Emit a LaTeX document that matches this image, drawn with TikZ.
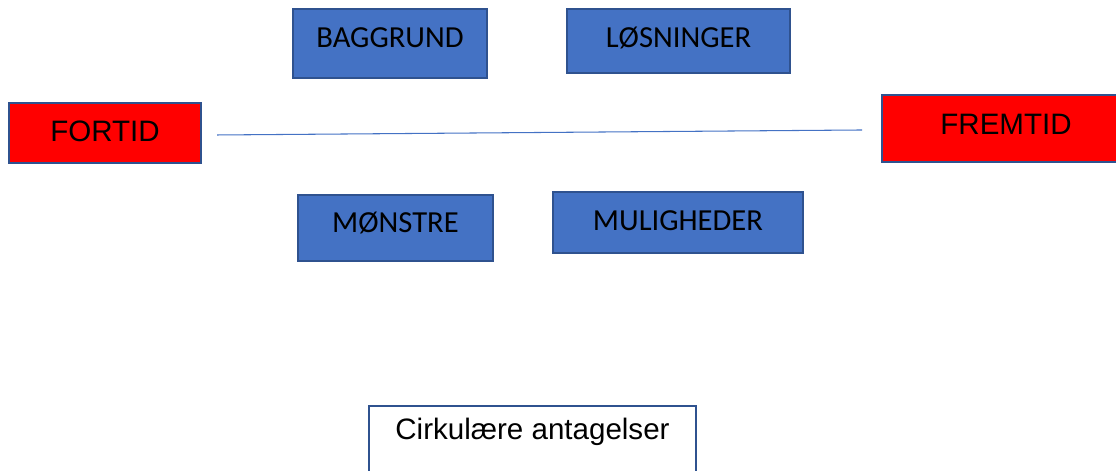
\documentclass[tikz,border=0pt]{standalone}
\usepackage{fontspec}
\setmainfont{Liberation Sans}
\newfontfamily\carlito{Carlito}
\definecolor{boxblue}{HTML}{4472C4}
\definecolor{edgeblue}{HTML}{2F528F}

\begin{document}
\begin{tikzpicture}[x=0.01cm, y=-0.01cm,
    blue box/.style={draw=edgeblue, fill=boxblue, line width=0.55pt, inner sep=0pt, text depth=0pt,
      font=\carlito\fontsize{8.7}{10}\selectfont},
    red box/.style={draw=edgeblue, fill=red, line width=0.55pt, inner sep=0pt, text depth=0pt,
      font=\fontsize{8.4}{10}\selectfont}]
  \useasboundingbox (0,0) rectangle (1116,471);
  \node[red box, minimum width=1.92cm, minimum height=0.60cm, text height=0.18cm] (FORT) at (105,133) {FORTID};
  \node[red box, minimum width=2.48cm, minimum height=0.67cm, text height=0.13cm] (FREM) at (1006,128.5) {FREMTID};
  \node[blue box, minimum width=1.94cm, minimum height=0.69cm, text height=0.09cm] (BAG) at (390,43.5) {BAGGRUND};
  \node[blue box, minimum width=2.23cm, minimum height=0.64cm, text height=0.14cm] (LOS) at (678.5,41) {LØSNINGER};
  \node[blue box, minimum width=1.95cm, minimum height=0.66cm, text height=0.10cm] (MON) at (395.5,228) {MØNSTRE};
  \node[blue box, minimum width=2.50cm, minimum height=0.61cm, text height=0.17cm] (MUL) at (678,222.5) {MULIGHEDER};
  \node[draw=edgeblue, fill=white, line width=0.55pt, inner sep=0pt, minimum width=3.27cm, minimum height=0.80cm,
    text height=0pt, text depth=0.12cm, font=\fontsize{8.4}{10}\selectfont] (CIRK) at (532.5,446) {Cirkulære antagelser};
  % tidslinje
  \coordinate (LA) at (217,135);
  \coordinate (RA) at (862,130);
  \draw[boxblue, line width=0.3pt] (LA) -- (RA);
\end{tikzpicture}
\end{document}
